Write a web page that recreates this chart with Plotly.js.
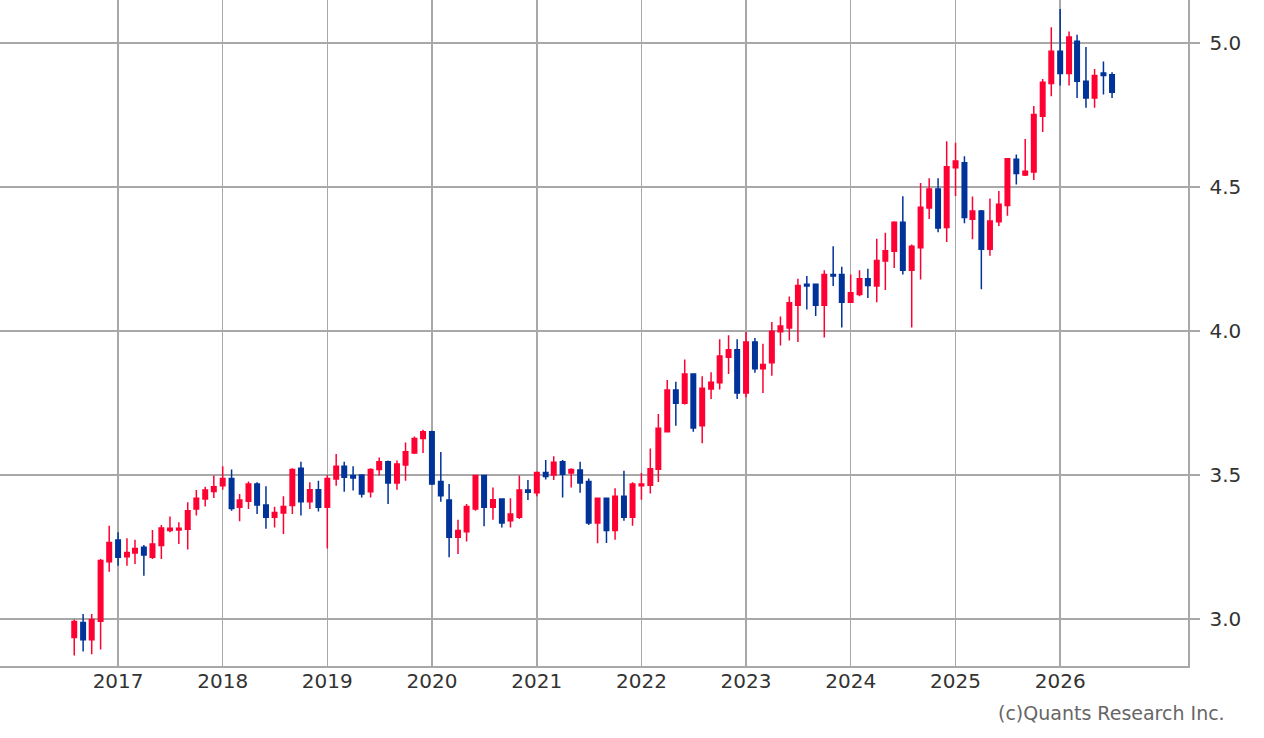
<!DOCTYPE html>
<html>
<head>
<meta charset="utf-8">
<script src="https://cdn.plot.ly/plotly-3.0.1.min.js"></script>
<style>
  html, body { margin: 0; padding: 0; background: #fff; }
  #chart { width: 1264px; height: 738px; }
</style>
</head>
<body>
<div id="chart"></div>
<script>
// monthly bars, Aug 2016 .. Jul 2026
const months = [
  '2016-08-01','2016-09-01','2016-10-01','2016-11-01','2016-12-01',
  '2017-01-01','2017-02-01','2017-03-01','2017-04-01','2017-05-01','2017-06-01','2017-07-01','2017-08-01','2017-09-01','2017-10-01','2017-11-01','2017-12-01',
  '2018-01-01','2018-02-01','2018-03-01','2018-04-01','2018-05-01','2018-06-01','2018-07-01','2018-08-01','2018-09-01','2018-10-01','2018-11-01','2018-12-01',
  '2019-01-01','2019-02-01','2019-03-01','2019-04-01','2019-05-01','2019-06-01','2019-07-01','2019-08-01','2019-09-01','2019-10-01','2019-11-01','2019-12-01',
  '2020-01-01','2020-02-01','2020-03-01','2020-04-01','2020-05-01','2020-06-01','2020-07-01','2020-08-01','2020-09-01','2020-10-01','2020-11-01','2020-12-01',
  '2021-01-01','2021-02-01','2021-03-01','2021-04-01','2021-05-01','2021-06-01','2021-07-01','2021-08-01','2021-09-01','2021-10-01','2021-11-01','2021-12-01',
  '2022-01-01','2022-02-01','2022-03-01','2022-04-01','2022-05-01','2022-06-01','2022-07-01','2022-08-01','2022-09-01','2022-10-01','2022-11-01','2022-12-01',
  '2023-01-01','2023-02-01','2023-03-01','2023-04-01','2023-05-01','2023-06-01','2023-07-01','2023-08-01','2023-09-01','2023-10-01','2023-11-01','2023-12-01',
  '2024-01-01','2024-02-01','2024-03-01','2024-04-01','2024-05-01','2024-06-01','2024-07-01','2024-08-01','2024-09-01','2024-10-01','2024-11-01','2024-12-01',
  '2025-01-01','2025-02-01','2025-03-01','2025-04-01','2025-05-01','2025-06-01','2025-07-01','2025-08-01','2025-09-01','2025-10-01','2025-11-01','2025-12-01',
  '2026-01-01','2026-02-01','2026-03-01','2026-04-01','2026-05-01','2026-06-01','2026-07-01'
]

const openVals = [
  2.936, 2.988, 2.928, 2.992, 3.199,
  3.274, 3.216, 3.229, 3.249, 3.214, 3.255, 3.307, 3.309, 3.312, 3.382, 3.417, 3.443,
  3.463, 3.488, 3.388, 3.409, 3.469, 3.396, 3.353, 3.368, 3.394, 3.523, 3.407, 3.449,
  3.388, 3.486, 3.530, 3.498, 3.500, 3.442, 3.519, 3.546, 3.472, 3.535, 3.576, 3.627,
  3.650, 3.477, 3.413, 3.284, 3.303, 3.382, 3.498, 3.388, 3.417, 3.341, 3.353, 3.448,
  3.438, 3.509, 3.500, 3.546, 3.507, 3.517, 3.477, 3.333, 3.419, 3.307, 3.426, 3.353,
  3.463, 3.464, 3.520, 3.650, 3.795, 3.749, 3.851, 3.671, 3.799, 3.820, 3.909, 3.935,
  3.785, 3.962, 3.869, 3.890, 3.997, 4.010, 4.089, 4.162, 4.162, 4.089, 4.196, 4.196,
  4.100, 4.127, 4.181, 4.156, 4.243, 4.277, 4.378, 4.211, 4.289, 4.427, 4.493, 4.359,
  4.567, 4.584, 4.388, 4.417, 4.284, 4.379, 4.436, 4.596, 4.542, 4.552, 4.746, 4.859,
  4.971, 4.894, 5.006, 4.867, 4.809, 4.896, 4.890
]

const highVals = [
  2.998, 3.017, 3.017, 3.208, 3.324,
  3.301, 3.280, 3.275, 3.257, 3.309, 3.326, 3.356, 3.336, 3.405, 3.448, 3.459, 3.498,
  3.530, 3.519, 3.434, 3.477, 3.475, 3.461, 3.390, 3.426, 3.523, 3.546, 3.475, 3.480,
  3.500, 3.573, 3.546, 3.530, 3.502, 3.523, 3.561, 3.550, 3.550, 3.613, 3.634, 3.657,
  3.654, 3.580, 3.469, 3.345, 3.399, 3.500, 3.500, 3.457, 3.418, 3.419, 3.498, 3.483,
  3.512, 3.552, 3.565, 3.552, 3.523, 3.546, 3.488, 3.420, 3.420, 3.454, 3.515, 3.475,
  3.507, 3.592, 3.712, 3.830, 3.824, 3.901, 3.852, 3.843, 3.857, 3.971, 3.985, 3.971,
  3.997, 3.976, 3.956, 4.031, 4.050, 4.120, 4.181, 4.191, 4.163, 4.211, 4.294, 4.223,
  4.196, 4.211, 4.216, 4.320, 4.341, 4.381, 4.468, 4.300, 4.514, 4.530, 4.530, 4.659,
  4.654, 4.607, 4.467, 4.420, 4.460, 4.486, 4.600, 4.613, 4.667, 4.781, 4.875, 5.055,
  5.118, 5.040, 5.029, 4.986, 4.910, 4.936, 4.898
]

const lowVals = [
  2.873, 2.887, 2.878, 2.894, 3.164,
  3.185, 3.185, 3.191, 3.150, 3.208, 3.208, 3.301, 3.260, 3.241, 3.359, 3.391, 3.420,
  3.449, 3.376, 3.339, 3.382, 3.365, 3.313, 3.318, 3.295, 3.365, 3.359, 3.382, 3.373,
  3.245, 3.463, 3.442, 3.446, 3.422, 3.422, 3.498, 3.399, 3.449, 3.480, 3.573, 3.576,
  3.465, 3.407, 3.214, 3.226, 3.269, 3.376, 3.322, 3.345, 3.318, 3.318, 3.347, 3.413,
  3.426, 3.484, 3.483, 3.422, 3.457, 3.438, 3.326, 3.263, 3.264, 3.275, 3.341, 3.324,
  3.414, 3.436, 3.476, 3.648, 3.671, 3.745, 3.650, 3.610, 3.764, 3.797, 3.851, 3.764,
  3.770, 3.855, 3.785, 3.845, 3.950, 3.967, 3.962, 4.075, 4.052, 3.977, 4.156, 4.012,
  4.098, 4.121, 4.115, 4.100, 4.142, 4.219, 4.196, 4.012, 4.179, 4.389, 4.343, 4.309,
  4.469, 4.374, 4.319, 4.145, 4.261, 4.365, 4.400, 4.509, 4.538, 4.524, 4.691, 4.815,
  4.852, 4.852, 4.809, 4.775, 4.775, 4.821, 4.809
]

const closeVals = [
  2.991, 2.928, 2.998, 3.203, 3.266,
  3.214, 3.231, 3.245, 3.222, 3.260, 3.316, 3.315, 3.315, 3.376, 3.419, 3.448, 3.459,
  3.488, 3.384, 3.413, 3.469, 3.396, 3.353, 3.370, 3.391, 3.519, 3.407, 3.449, 3.388,
  3.488, 3.530, 3.492, 3.490, 3.434, 3.519, 3.546, 3.472, 3.538, 3.581, 3.627, 3.650,
  3.469, 3.428, 3.284, 3.307, 3.391, 3.498, 3.388, 3.414, 3.333, 3.365, 3.448, 3.440,
  3.509, 3.495, 3.544, 3.503, 3.519, 3.472, 3.333, 3.419, 3.307, 3.426, 3.353, 3.469,
  3.469, 3.522, 3.662, 3.795, 3.749, 3.851, 3.663, 3.801, 3.822, 3.913, 3.935, 3.785,
  3.962, 3.869, 3.884, 3.999, 4.017, 4.098, 4.158, 4.156, 4.089, 4.196, 4.191, 4.100,
  4.133, 4.181, 4.158, 4.245, 4.279, 4.378, 4.211, 4.294, 4.430, 4.493, 4.358, 4.570,
  4.590, 4.394, 4.417, 4.284, 4.382, 4.440, 4.598, 4.547, 4.555, 4.752, 4.864, 4.971,
  4.894, 5.021, 4.867, 4.809, 4.887, 4.887, 4.829
]

// year ticks shown on the x axis
const yearTicks = ['2017-01-01','2018-01-01','2019-01-01','2020-01-01','2021-01-01',
                   '2022-01-01','2023-01-01','2024-01-01','2025-01-01','2026-01-01']
const yearLabels = ['2017','2018','2019','2020','2021','2022','2023','2024','2025','2026']

const upColor = '#ff0033'
const downColor = '#003399'
const gridColor = '#a8a8a8'

const trace = {
  type: 'candlestick',
  x: months,
  open: openVals,
  high: highVals,
  low: lowVals,
  close: closeVals,
  increasing: { line: { color: upColor, width: 1.5 }, fillcolor: upColor },
  decreasing: { line: { color: downColor, width: 1.5 }, fillcolor: downColor },
  whiskerwidth: 0,
  hoverinfo: 'none',
  showlegend: false
}

const layout = {
  width: 1264,
  height: 738,
  margin: { l: 0, r: 76, t: 0, b: 72 },
  paper_bgcolor: '#ffffff',
  plot_bgcolor: '#ffffff',
  font: { family: 'DejaVu Sans, sans-serif', size: 20, color: '#333333' },
  showlegend: false,
  boxgap: 0.2,
  xaxis: {
    type: 'date',
    range: ['2015-11-16', '2027-03-23'],
    tickmode: 'array',
    tickvals: yearTicks,
    ticktext: yearLabels,
    ticks: '',
    ticklabelstandoff: -4,
    showgrid: true,
    gridcolor: gridColor,
    gridwidth: 1.5,
    showline: true,
    linecolor: gridColor,
    linewidth: 1.5,
    zeroline: false,
    rangeslider: { visible: false },
    fixedrange: true
  },
  yaxis: {
    side: 'right',
    range: [2.8368, 5.1493],
    tick0: 0,
    dtick: 0.5,
    tickformat: '.1f',
    ticks: 'outside',
    ticklen: 10,
    tickwidth: 1.5,
    tickcolor: gridColor,
    ticklabelstandoff: 6,
    showgrid: true,
    gridcolor: gridColor,
    gridwidth: 1.5,
    showline: true,
    linecolor: gridColor,
    linewidth: 1.5,
    zeroline: false,
    fixedrange: true
  },
  annotations: [{
    text: '(c)Quants Research Inc.',
    xref: 'paper', yref: 'paper',
    x: 1, y: 0,
    xanchor: 'right', yanchor: 'middle',
    xshift: 39, yshift: -47,
    showarrow: false,
    font: { family: 'DejaVu Sans, sans-serif', size: 19, color: '#666666' }
  }]
}

Plotly.newPlot('chart', [trace], layout, { displayModeBar: false, staticPlot: true })
</script>
</body>
</html>
